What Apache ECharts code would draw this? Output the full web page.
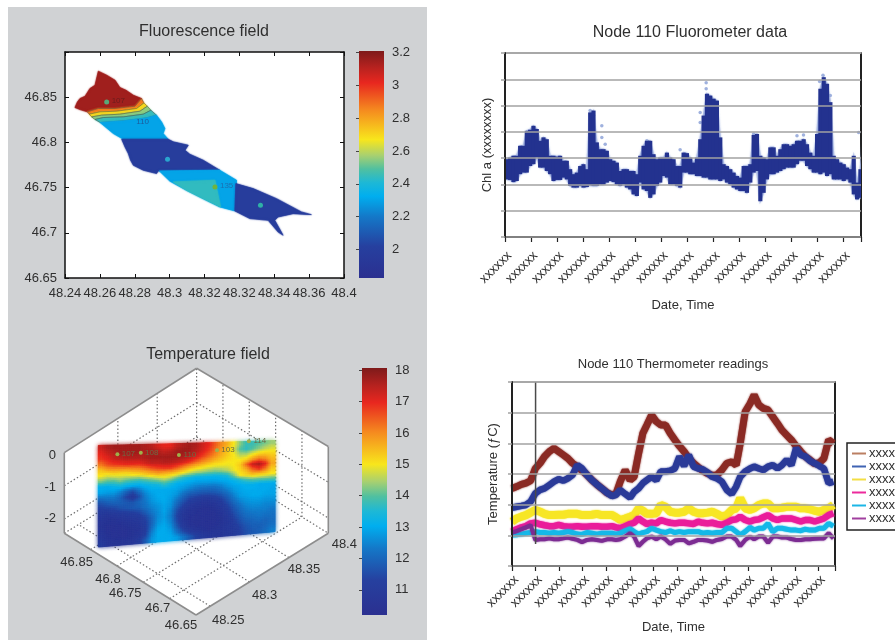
<!DOCTYPE html>
<html><head><meta charset="utf-8"><title>Lake sensor fields</title>
<style>html,body{margin:0;padding:0;background:#fff;overflow:hidden}#c{width:895px;height:640px}</style>
<script src="https://cdn.jsdelivr.net/npm/echarts@6/dist/echarts.min.js"></script>
</head><body><div id="c"></div><script>
// ---------- DATA ----------
const mapXLabels=['48.24','48.26','48.28','48.3','48.32','48.32','48.34','48.36','48.4'];
const mapYLabels=['46.65','46.7','46.75','46.8','46.85',''];
const fluorBarTicks=[2,2.2,2.4,2.6,2.8,3,3.2];
const tempBarTicks=[11,12,13,14,15,16,17,18];
// Fluorescence field: [value, outline as lon/lat pairs]
const regionRed=[3.15,[[48.2457,46.8386],[48.2471,46.8448],[48.2486,46.8485],[48.2515,46.8511],[48.2543,46.8596],[48.2572,46.8633],[48.2591,46.8788],[48.2639,46.8744],[48.2687,46.8688],[48.2715,46.8607],[48.2750,46.8577],[48.2792,46.8522],[48.2839,46.8485],[48.2830,46.8448],[48.2801,46.84],[48.2687,46.8375],[48.2591,46.8375],[48.2528,46.8338],[48.2486,46.8363]]];
const regionOrange=[2.88,[[48.2528,46.8338],[48.2591,46.8375],[48.2687,46.8375],[48.2801,46.84],[48.2839,46.8485],[48.2853,46.8437],[48.2811,46.8375],[48.2696,46.8345],[48.2601,46.8338],[48.2539,46.8312]]];
const regionYellow=[2.7,[[48.2539,46.8312],[48.2601,46.8338],[48.2696,46.8345],[48.2811,46.8375],[48.2853,46.8437],[48.2872,46.84],[48.2830,46.8345],[48.2715,46.8312],[48.2610,46.8301],[48.2553,46.8282]]];
const regionGreen=[2.55,[[48.2553,46.8282],[48.2610,46.8301],[48.2715,46.8312],[48.2830,46.8345],[48.2872,46.84],[48.2893,46.8356],[48.2849,46.8312],[48.2734,46.8282],[48.2620,46.8275],[48.2572,46.8253]]];
const regionTeal=[2.45,[[48.2572,46.8253],[48.2620,46.8275],[48.2734,46.8282],[48.2849,46.8312],[48.2893,46.8356],[48.2925,46.8301],[48.2868,46.8271],[48.2734,46.8238],[48.2601,46.822]]];
const regionBlueA=[2.3,[[48.2601,46.822],[48.2734,46.8238],[48.2868,46.8271],[48.2925,46.8301],[48.2954,46.8227],[48.2973,46.8153],[48.2963,46.8098],[48.2992,46.8035],[48.2734,46.8035],[48.2677,46.8098]]];
const regionNavyA=[1.98,[[48.2725,46.8035],[48.2992,46.8035],[48.3021,46.8006],[48.3107,46.7969],[48.3088,46.7913],[48.3116,46.7869],[48.3193,46.7803],[48.3288,46.7692],[48.2935,46.7684],[48.2925,46.7655],[48.2849,46.7692],[48.2792,46.7747],[48.2776,46.7803],[48.2763,46.7876],[48.2744,46.795]]];
const regionBlueB=[2.3,[[48.2941,46.7684],[48.3288,46.7692],[48.3384,46.7581],[48.3374,46.7242],[48.3288,46.7286],[48.3193,46.7378],[48.3097,46.7470],[48.3002,46.7570]]];
const regionTealB=[2.44,[[48.3021,46.7563],[48.3260,46.7581],[48.3292,46.7286],[48.3193,46.7378],[48.3097,46.7470]]];
const regionNavyB=[1.98,[[48.3380,46.7544],[48.3479,46.7489],[48.3613,46.7378],[48.3756,46.7231],[48.3813,46.7201],[48.3708,46.7212],[48.3622,46.7175],[48.3603,46.7138],[48.3651,46.6972],[48.3622,46.7009],[48.3565,46.7138],[48.3460,46.7157],[48.3374,46.7242]]];
const mapRegions=[regionRed,regionOrange,regionYellow,regionGreen,regionTeal,regionBlueA,regionNavyA,regionBlueB,regionTealB,regionNavyB];
const mapNodes=[[48.2639,46.8448],[48.2988,46.7814],[48.3260,46.7507],[48.3521,46.7304]];
const mapNodeLabels=['107','','135',''];
const mapIsoLabel=[[48.2845,46.8225,'110']];
// Temperature field: rows from the surface down, columns along the lake section
const sectionStart=[48.2605,46.878];
const sectionEnd=[48.374,46.7122];
const sectionBottom=[-3.04,-2.6];
const tempField=[
[17.3,17.6,17.7,17.7,17.7,17.7,17.7,17.6,17.5,17.2,17.0,17.0,17.4,17.6,17.7,17.6,17.3,17.0,16.5,16.0,15.6,15.0,14.3,13.8,13.8,14.0,14.2,14.4],
[17.0,17.3,17.5,17.7,17.7,17.7,17.7,17.6,17.7,17.6,17.4,17.5,17.7,17.8,17.7,17.5,17.2,16.8,16.3,15.8,15.4,14.8,14.0,13.7,14.0,14.3,14.6,14.8],
[16.8,17.0,17.3,17.4,17.5,17.5,17.5,17.6,17.7,17.7,17.7,17.7,17.7,17.6,17.5,17.2,16.8,16.4,16.0,15.6,15.3,15.0,14.5,14.5,14.9,15.2,15.3,15.2],
[16.2,16.6,16.8,16.9,17.0,17.0,17.0,17.2,17.4,17.4,17.5,17.5,17.4,17.2,16.9,16.5,16.1,15.8,15.5,15.3,15.1,15.0,15.0,15.2,15.8,16.2,16.0,15.5],
[15.4,15.7,15.8,15.8,15.8,15.9,16.0,16.2,16.5,16.7,16.8,16.8,16.5,16.1,15.7,15.4,15.2,15.0,14.9,14.9,14.9,15.0,15.3,16.3,17.3,17.6,17.0,15.7],
[15.0,14.8,14.9,14.9,14.9,15.0,15.1,15.3,15.5,15.7,15.6,15.5,15.3,15.0,14.7,14.5,14.4,14.3,14.2,14.3,14.5,14.9,15.2,15.6,16.4,16.8,16.2,15.3],
[14.2,14.0,14.0,14.2,14.0,13.9,13.8,14.0,14.2,14.4,14.6,14.4,14.0,13.6,13.4,13.2,13.2,13.2,13.2,13.3,13.5,14.2,15.0,15.2,15.4,15.3,15.2,15.0],
[13.1,13.1,13.2,13.3,13.1,13.0,13.0,13.2,13.3,13.4,13.7,13.4,13.1,13.0,12.9,12.8,12.8,12.8,12.8,12.9,13.0,13.2,13.5,13.8,14.0,14.0,14.0,14.0],
[12.9,12.8,12.8,12.5,12.0,11.6,12.2,12.7,13.0,13.0,13.0,13.0,12.9,12.7,12.5,12.3,12.2,12.2,12.2,12.4,12.7,12.9,13.0,13.1,13.1,13.0,13.0,13.0],
[12.2,12.3,12.3,12.0,11.4,10.9,11.6,12.4,12.8,13.0,13.0,12.9,12.7,12.2,11.9,11.8,11.7,11.7,11.8,12.0,12.3,12.7,12.9,13.0,13.0,13.0,13.0,12.9],
[11.6,11.8,11.9,11.9,11.8,11.7,12.0,12.3,12.7,12.9,13.0,12.8,12.3,11.8,11.4,11.2,11.1,11.1,11.2,11.5,11.9,12.4,12.8,12.9,13.0,13.0,12.9,12.9],
[11.2,11.3,11.4,11.6,11.7,11.8,11.9,12.2,12.5,12.7,12.9,12.7,12.0,11.4,11.0,10.8,10.7,10.7,10.8,11.1,11.6,12.1,12.5,12.7,12.8,12.8,12.7,12.7],
[10.9,10.8,10.9,11.0,11.1,11.2,11.4,11.8,12.3,12.6,12.9,12.5,11.6,11.0,10.7,10.6,10.5,10.5,10.6,10.9,11.3,11.8,12.2,12.5,12.6,12.6,12.5,12.5],
[10.7,10.6,10.6,10.7,10.8,10.9,11.0,11.4,12.0,12.6,12.8,12.4,11.4,10.8,10.6,10.5,10.5,10.5,10.5,10.7,11.1,11.6,12.0,12.3,12.4,12.4,12.4,12.3],
[10.6,10.5,10.5,10.5,10.6,10.7,10.8,11.2,12.0,12.7,12.9,12.5,11.5,10.8,10.5,10.5,10.5,10.5,10.5,10.6,10.9,11.4,11.8,12.1,12.2,12.3,12.2,12.2],
[10.7,10.5,10.5,10.5,10.5,10.6,10.7,11.1,12.2,12.9,13.0,12.7,11.8,11.0,10.6,10.5,10.5,10.5,10.5,10.6,10.8,11.2,11.6,11.9,12.0,12.1,12.0,12.1],
[10.8,10.6,10.5,10.5,10.5,10.6,10.8,11.3,12.5,13.0,13.0,12.9,12.2,11.5,11.0,10.7,10.6,10.5,10.6,10.7,10.9,11.1,11.4,11.7,11.9,11.9,12.0,12.2],
[11.0,10.7,10.6,10.6,10.7,10.8,11.1,11.8,12.7,13.0,13.0,13.0,12.8,12.3,11.8,11.3,11.0,10.8,10.7,10.7,10.8,11.0,11.3,11.6,11.8,11.9,12.1,12.4]];
const sectionNodes=[[48.274,46.862,-0.31],[48.291,46.843,-0.34],[48.318,46.811,-0.5],[48.345,46.779,-0.46],[48.368,46.753,-0.3]];
const sectionNodeLabels=['107','108','110','103','114'];
const latTicks3D=[46.85,46.8,46.75,46.7,46.65];
const lonTicks3D=[48.25,48.3,48.35,48.4];
const depthTicks3D=[0,-1,-2];
// Fluorometer: upper and lower edge of the dense band, one pair per sampled time step
const fluoroHigh=[2.96,3.02,3.09,3.09,3.47,3.47,4.04,4.08,4.23,4.11,3.66,3.79,3.72,3.09,3.09,3.06,3.09,2.90,2.90,2.58,2.39,2.45,2.70,2.77,2.58,4.74,4.81,3.60,3.34,3.34,3.28,2.96,2.90,2.83,2.51,2.58,2.58,2.51,2.51,2.39,3.09,3.47,3.66,3.66,3.15,2.96,3.02,3.02,3.21,3.02,2.96,2.70,2.70,3.21,3.19,3.02,2.83,3.02,3.72,4.62,5.45,5.38,5.26,5.19,3.79,2.77,2.70,2.58,2.45,2.32,2.26,2.70,2.70,2.77,3.88,3.92,3.09,3.02,2.96,3.41,3.41,3.09,3.34,3.53,3.53,3.47,3.53,3.66,3.66,3.72,3.53,3.21,3.09,3.92,5.64,6.08,5.83,5.13,3.09,2.96,2.83,2.77,2.64,2.58,3.09,2.07,2.58,3.85];
const fluoroLow=[2.19,2.17,2.09,2.13,2.39,2.45,2.45,2.70,2.77,3.02,2.64,2.64,2.51,2.39,2.13,2.17,2.17,2.26,2.19,1.94,1.88,1.88,1.94,1.88,1.90,1.97,1.94,1.94,2.0,2.0,2.07,2.13,2.09,2.0,1.94,2.0,1.88,1.81,1.62,1.56,2.07,1.81,1.75,1.49,1.62,1.94,2.07,2.32,2.26,2.0,2.0,1.94,1.88,2.45,2.45,2.39,2.39,2.32,2.32,2.26,2.26,2.19,2.19,2.19,2.13,2.19,2.07,2.0,1.88,1.81,1.75,1.75,1.68,2.07,2.45,2.51,1.36,1.68,2.19,2.39,2.39,2.45,2.51,2.58,2.64,2.64,2.64,2.77,2.90,2.90,2.70,2.58,2.45,2.45,2.39,2.45,2.32,2.39,2.19,2.19,2.19,2.13,2.19,2.07,1.62,1.43,1.49,2.07];
const fluoroSpikes=[[3.27,4.81],[3.4,4.62],[3.72,4.23],[3.72,3.79],[3.59,3.34],[3.85,3.53],[3.81,3.21],[7.73,5.87],[7.73,5.64],[7.5,4.74],[7.5,4.36],[12.22,6.15],[12.09,5.92],[12.5,5.38],[5.45,3.66],[11.22,3.85],[11.47,3.88],[6.73,3.32],[9.55,3.92],[13.59,3.98]];
const dateLabels=['xxxxxx','xxxxxx','xxxxxx','xxxxxx','xxxxxx','xxxxxx','xxxxxx','xxxxxx','xxxxxx','xxxxxx','xxxxxx','xxxxxx','xxxxxx','xxxxxx'];
// Thermometers
const thermoTime=[0,.2,.4,.59,.79,.99,1.19,1.38,1.58,1.78,1.98,2.18,2.37,2.57,2.77,2.97,3.18,3.39,3.6,3.81,4.03,4.24,4.41,4.59,4.8,5.01,5.18,5.37,5.55,5.72,5.92,6.12,6.31,6.51,6.71,6.91,7.1,7.3,7.5,7.7,7.9,8.09,8.29,8.49,8.69,8.9,9.11,9.32,9.51,9.68,9.89,10.1,10.27,10.47,10.66,10.86,11.06,11.26,11.45,11.65,11.85,12.05,12.25,12.44,12.64,12.84,13.04,13.23,13.43,13.63];
const thermoBrown=[2.53,2.59,2.66,2.70,2.78,3.18,3.35,3.57,3.73,3.84,3.73,3.62,3.51,3.35,3.24,3.11,2.97,2.80,2.66,2.53,2.39,2.32,2.35,2.75,3.13,2.80,2.91,3.67,4.33,4.60,4.92,4.71,4.60,4.60,4.33,4.11,3.91,3.73,3.51,3.35,3.22,3.11,3.02,2.95,2.97,3.13,3.35,3.40,3.29,4.00,5.03,5.30,5.58,5.25,5.14,5.09,4.87,4.65,4.43,4.27,4.11,3.91,3.73,3.57,3.46,3.33,3.37,3.51,4.11,4.00];
const thermoBlue=[1.90,1.93,1.96,1.99,2.10,2.37,2.48,2.53,2.64,2.75,2.83,2.78,2.86,2.97,3.29,3.18,2.97,2.80,2.66,2.53,2.39,2.28,2.32,2.48,2.35,2.23,2.42,2.53,2.70,2.80,2.91,2.80,3.08,3.08,3.11,3.18,3.57,3.26,3.62,3.24,3.18,3.15,3.05,2.91,2.86,2.75,2.48,2.35,2.59,2.91,3.08,3.18,3.24,3.18,3.13,3.24,3.29,3.18,3.29,3.46,3.29,3.84,3.62,3.57,3.43,3.35,3.26,3.18,2.70,2.75];
const thermoYellow=[1.45,1.55,1.61,1.66,1.74,1.83,1.77,1.70,1.66,1.66,1.67,1.67,1.70,1.70,1.70,1.66,1.66,1.67,1.70,1.66,1.66,1.66,1.59,1.50,1.55,1.61,1.66,1.88,1.80,1.70,1.70,1.72,1.99,1.93,1.77,1.74,1.74,1.77,1.88,1.77,1.72,1.72,1.74,1.77,1.70,1.61,1.66,1.83,1.88,2.21,1.88,1.83,1.88,1.99,2.04,2.04,1.88,1.88,1.90,1.93,1.93,1.93,1.88,1.88,1.85,1.80,1.77,1.83,1.88,1.99];
const thermoMagenta=[1.12,1.20,1.26,1.30,1.39,1.41,1.36,1.33,1.30,1.30,1.34,1.30,1.28,1.28,1.30,1.28,1.28,1.30,1.30,1.28,1.28,1.30,1.26,1.23,1.30,1.37,1.41,1.55,1.45,1.37,1.41,1.39,1.50,1.45,1.41,1.39,1.41,1.41,1.39,1.37,1.45,1.41,1.39,1.41,1.37,1.34,1.41,1.50,1.52,1.61,1.50,1.45,1.50,1.52,1.59,1.66,1.55,1.50,1.55,1.55,1.55,1.50,1.45,1.50,1.50,1.45,1.50,1.55,1.66,1.72];
const thermoCyan=[1.01,1.02,1.04,1.07,1.09,1.12,1.09,1.09,1.07,1.09,1.07,1.09,1.12,1.09,1.04,1.03,1.09,1.07,1.04,1.07,1.07,1.07,1.04,1.07,1.15,1.21,1.12,1.04,1.09,1.12,1.23,1.17,1.12,1.09,1.15,1.09,1.12,1.09,1.12,1.12,1.12,1.07,1.09,1.07,1.09,1.09,1.23,1.23,1.12,1.01,1.12,1.26,1.17,1.23,1.23,1.39,1.12,1.23,1.23,1.20,1.17,1.17,1.15,1.20,1.17,1.17,1.23,1.23,1.39,1.30];
const thermoPurple=[1.09,1.14,1.20,1.26,1.33,.85,.87,.87,.90,.87,.87,.90,.93,.89,.85,.78,.85,.87,.85,.82,.87,.87,.85,.87,.96,1.07,.96,.65,.79,.90,.96,.87,.96,.87,.72,.83,.85,.85,.74,.79,.85,.85,.83,.79,.85,.88,.96,.96,.85,.65,.85,.96,.87,.96,.96,.76,.96,.96,.93,.93,.88,.85,.85,.87,.87,.89,.90,.90,1.07,.90];
const thermoSeriesNames=['sensor 1','sensor 2','sensor 3','sensor 4','sensor 5','sensor 6'];
const thermoSeriesData=[thermoBrown,thermoBlue,thermoYellow,thermoMagenta,thermoCyan,thermoPurple];

// ---------- STYLE / LAYOUT ----------
const FONT='"Liberation Sans", Arial, sans-serif', INK='#2f2f2f';
const thermoColors=['#8a2a24','#2a3a98','#f7e625','#ea1c9a','#14b8e8','#7c2c92'];
const thermoWidths=[7,6.5,8,6.5,5,4];
const legendColors=['#bb7f62','#3f63b3','#f3de45','#ec2a9c','#1cb6e6','#a13f9f'];
const rampStops=[[0,'#2b3090'],[.14,'#26409f'],[.27,'#1478c8'],[.36,'#00aeef'],[.42,'#1db8d6'],[.48,'#50c0a0'],[.54,'#a8d070'],[.61,'#f8e61c'],[.74,'#f58a1f'],[.86,'#e8271f'],[.93,'#b5221f'],[1,'#7e1a1a']];
function ramp(t){t=Math.max(0,Math.min(1,t));
  for(let i=1;i<rampStops.length;i++){ if(t<=rampStops[i][0]){const a=rampStops[i-1],b=rampStops[i];
    return echarts.color.lerp((t-a[0])/(b[0]-a[0]),[a[1],b[1]]);}} return rampStops[rampStops.length-1][1];}
const fluorRange=[1.825,3.21], tempRange=[10.2,18.07];
const box={lon:[48.232,48.4],lat:[46.65,46.9],floor:-2.43,ox:196,oy:615,lonV:[132.3,-81.7],latV:[-131.7,-81.7],dz:33.2,dzLon:2.5,dzBack:-1.4};
function project(lon,lat,d){const a=(lon-box.lon[0])/(box.lon[1]-box.lon[0]),b=(lat-box.lat[0])/(box.lat[1]-box.lat[0]);
  const dz=box.dz+box.dzLon*a+box.dzBack*a*b;
  return [box.ox+a*box.lonV[0]+b*box.latV[0],box.oy+a*box.lonV[1]+b*box.latV[1]-(d-box.floor)*dz];}
const latLabelOffset=[[-14,13],[-9,13],[-18,11],[-12,10],[-15,10]];
const lonLabelOffset=[[18,14],[15,13],[15,12],[16,11]];
const depthLabelOffset=[[-12,3],[-14,2],[-14,-1]];
function frameAxis(o){const base={type:'value',axisTick:{show:false},axisLabel:{show:false},splitLine:{show:false}};
  const r=Object.assign(base,o);r.axisLine=Object.assign({show:true,onZero:false,lineStyle:{color:'#111',width:1.5}},o.axisLine||{});return r;}
function blank(o){return Object.assign({type:'value',show:false,min:0,max:1},o);}

const grids=[
 {left:8,top:7,width:419,height:633,show:true,backgroundColor:'#d0d2d4',borderWidth:0},  //0 panel + 3D space
 {left:65,top:52,width:279,height:226,show:true,backgroundColor:'#fff',borderWidth:0},   //1 map
 {left:359,top:51,width:25,height:227},                                                  //2 bar
 {left:362,top:368,width:25,height:247},                                                 //3 bar
 {left:505,top:53,width:356,height:184},                                                 //4 fluoro
 {left:512,top:382,width:323,height:184}                                                 //5 thermo
];
const tsLabel=(m)=>({show:true,rotate:45,verticalAlign:'top',fontFamily:FONT,fontSize:13,color:INK,margin:m,interval:0,formatter:(v,i)=>dateLabels[i]||''});
const tsName={nameLocation:'middle',nameTextStyle:{fontFamily:FONT,fontSize:13,color:INK}};
const darkLine={show:true,onZero:false,lineStyle:{color:'#222',width:2}};
const greyLine={show:true,onZero:false,lineStyle:{color:'#a8a8a8',width:1.5}};
const xAxes=[
 blank({gridIndex:0,min:8,max:427}),
 frameAxis({gridIndex:1,min:48.24,max:48.4,interval:.02,position:'bottom',axisTick:{show:true,inside:true,length:4,lineStyle:{color:'#111'}},
   axisLabel:{show:true,fontFamily:FONT,fontSize:13,color:INK,margin:9,hideOverlap:false,showMinLabel:true,showMaxLabel:true,formatter:(v,i)=>mapXLabels[i]}}),
 frameAxis({gridIndex:1,min:48.24,max:48.4,interval:.02,position:'top',axisTick:{show:true,inside:true,length:4,lineStyle:{color:'#111'}}}),
 blank({gridIndex:2}),blank({gridIndex:3}),
 frameAxis(Object.assign({gridIndex:4,min:0,max:13.68,interval:1,position:'bottom',axisLine:darkLine,
   axisTick:{show:true,length:5,lineStyle:{color:'#222',width:1.2}},axisLabel:tsLabel(12),name:'Date, Time',nameGap:62},tsName)),
 frameAxis({gridIndex:4,min:0,max:13.68,position:'top',axisLine:greyLine}),
 frameAxis(Object.assign({gridIndex:5,min:0,max:13.7,interval:1,position:'bottom',axisLine:darkLine,
   axisTick:{show:true,length:5,lineStyle:{color:'#222',width:1.2}},axisLabel:tsLabel(7),name:'Date, Time',nameGap:55},tsName)),
 frameAxis({gridIndex:5,min:0,max:13.7,position:'top',axisLine:greyLine})
];
function barAxis(g,r,ticks){return [
 {type:'value',gridIndex:g,position:'right',min:r[0],max:r[1],axisLine:{show:false},splitLine:{show:false},
  axisTick:{show:true,inside:true,length:3,lineStyle:{color:'#444'},customValues:ticks},
  axisLabel:{show:true,fontFamily:FONT,fontSize:13,color:INK,margin:8,customValues:ticks}},
];}
const tsGrid={show:true,lineStyle:{color:'#a2a2a2',width:1.5}};
const tsTick={show:true,length:4,lineStyle:{color:'#a2a2a2',width:1.5}};
const yAxes=[
 blank({gridIndex:0,min:7,max:640,inverse:true}),
 frameAxis({gridIndex:1,min:46.65,max:46.9,interval:.05,position:'left',axisTick:{show:true,inside:true,length:4,lineStyle:{color:'#111'}},
   axisLabel:{show:true,fontFamily:FONT,fontSize:13,color:INK,margin:8,formatter:(v,i)=>mapYLabels[i]}}),
 frameAxis({gridIndex:1,min:46.65,max:46.9,interval:.05,position:'right',axisTick:{show:true,inside:true,length:4,lineStyle:{color:'#111'}}}),
 ...barAxis(2,fluorRange,fluorBarTicks),...barAxis(3,tempRange,tempBarTicks),
 frameAxis(Object.assign({gridIndex:4,min:0,max:7,interval:1,position:'left',z:5,axisLine:darkLine,axisTick:tsTick,splitLine:tsGrid,name:'Chl a (xxxxxxxx)',nameGap:11},tsName)),
 frameAxis({gridIndex:4,min:0,max:7,position:'right',axisLine:darkLine}),
 frameAxis(Object.assign({gridIndex:5,min:0,max:6,interval:1,position:'left',z:5,axisLine:darkLine,axisTick:tsTick,splitLine:tsGrid,name:'Temperature (ƒC)',nameGap:12},tsName)),
 frameAxis({gridIndex:5,min:0,max:6,position:'right',axisLine:darkLine})
];
const X={pan:0,map:1,barA:3,barB:4,fl:5,th:7}, Y={pan:0,map:1,barA:3,barB:4,fl:5,th:7};

// ---------- 3D helper geometry from the axis ticks ----------
const L=box.lon,A=box.lat,F=box.floor;
const solidEdges=[
 [[L[0],A[1],0],[L[1],A[1],0]],[[L[1],A[1],0],[L[1],A[0],0]],
 [[L[1],A[0],0],[L[1],A[0],F]],[[L[1],A[0],F],[L[0],A[0],F]],[[L[0],A[0],F],[L[0],A[1],F]],[[L[0],A[1],F],[L[0],A[1],0]]];
const dotted=[];
[-1,-2].forEach(d=>{dotted.push([[L[0],A[1],d],[L[1],A[1],d]],[[L[1],A[1],d],[L[1],A[0],d]]);});
[48.3,48.35,48.4].forEach(l=>dotted.push([[l,A[1],F],[l,A[1],0]]));
[46.85,46.8,46.75,46.7].forEach(a=>dotted.push([[L[1],a,F],[L[1],a,0]]));
lonTicks3D.slice(0,3).forEach(l=>dotted.push([[l,A[0],F],[l,A[1],F]]));
latTicks3D.slice(0,4).forEach(a=>dotted.push([[L[0],a,F],[L[1],a,F]]));
dotted.push([[L[1],A[1],F],[L[1],A[0],F]],[[L[0],A[1],F],[L[1],A[1],F]]);
const hexagon=[[L[0],A[1],0],[L[1],A[1],0],[L[1],A[0],0],[L[1],A[0],F],[L[0],A[0],F],[L[0],A[1],F]];
const pt=(api,p)=>{const s=project(p[0],p[1],p[2]);return api.coord(s);};
function idx(n){const a=[];for(let i=0;i<n;i++)a.push([i]);return a;}
const panel3D={xAxisIndex:X.pan,yAxisIndex:Y.pan,type:'custom',silent:true,tooltip:{show:false}};

function sectionPoint(col,row){const nc=tempField[0].length,nr=tempField.length,s=col/nc;
  const bottom=sectionBottom[0]+(sectionBottom[1]-sectionBottom[0])*s;
  return [sectionStart[0]+(sectionEnd[0]-sectionStart[0])*s,sectionStart[1]+(sectionEnd[1]-sectionStart[1])*s,bottom*row/nr];}
const cells=[];tempField.forEach((r,i)=>r.forEach((v,j)=>cells.push([j,i,v])));
// colour shading between the read cells (drawing only, the cell values stay as read)
const SHADE=3;
function shadeAt(c,r){const nc=tempField[0].length,nr=tempField.length;
  const x=Math.max(0,Math.min(nc-1,c-.5)),y=Math.max(0,Math.min(nr-1,r-.5));
  const i=Math.min(nr-2,Math.floor(y)),j=Math.min(nc-2,Math.floor(x)),u=x-j,v=y-i;
  const f=tempField;return f[i][j]*(1-u)*(1-v)+f[i][j+1]*u*(1-v)+f[i+1][j]*(1-u)*v+f[i+1][j+1]*u*v;}
const shadeCells=[];cells.forEach(c=>{for(let a=0;a<SHADE;a++)for(let b=0;b<SHADE;b++)shadeCells.push([c[0]+a/SHADE,c[1]+b/SHADE]);});

function textSeries(items,z){return Object.assign({},panel3D,{z:z,data:idx(items.length),renderItem:(p,api)=>{const it=items[p.dataIndex];
  const c=pt(api,it.at);return {type:'text',style:{x:c[0]+it.off[0],y:c[1]+it.off[1],text:it.text,fill:it.fill||INK,font:(it.size||13)+'px '+FONT,align:it.align||'center',verticalAlign:'middle'}};}});}
const labels3D=[
 ...latTicks3D.map((a,i)=>({at:[L[0],a,F],text:String(a),off:latLabelOffset[i]})),
 ...lonTicks3D.map((l,i)=>({at:[l,A[0],F],text:String(l),off:lonLabelOffset[i]})),
 ...depthTicks3D.map((d,i)=>({at:[L[0],A[1],d],text:String(d),off:depthLabelOffset[i]}))
];
const nodeText3D=sectionNodes.map((n,i)=>({at:n,text:sectionNodeLabels[i],off:[11,0],size:8,fill:'#6b6a45'}));
const flStep=10/78;

const series=[
 // 3D panel
 Object.assign({},panel3D,{z:1,data:[[0]],renderItem:(p,api)=>({type:'polygon',shape:{points:hexagon.map(h=>pt(api,h))},style:{fill:'#fff'}})}),
 Object.assign({},panel3D,{z:2,data:idx(dotted.length),renderItem:(p,api)=>{const s=dotted[p.dataIndex],a=pt(api,s[0]),b=pt(api,s[1]);
   return {type:'line',shape:{x1:a[0],y1:a[1],x2:b[0],y2:b[1]},style:{stroke:'#6e6e6e',lineWidth:1.2,lineDash:[1.5,2.2]}};}}),
 Object.assign({},panel3D,{z:3,data:idx(cells.length),renderItem:(p,api)=>{const c=cells[p.dataIndex];
   const f=ramp((c[2]-tempRange[0])/(tempRange[1]-tempRange[0]));
   const q=[[c[0],c[1]],[c[0]+1,c[1]],[c[0]+1,c[1]+1],[c[0],c[1]+1]].map(o=>pt(api,sectionPoint(o[0],o[1])));
   return {type:'polygon',shape:{points:q},style:{fill:f,stroke:f,lineWidth:.6,shadowBlur:4,shadowColor:f}};}}),
 Object.assign({},panel3D,{z:3,data:idx(shadeCells.length),renderItem:(p,api)=>{const c=shadeCells[p.dataIndex],w=1/SHADE;
   const f=ramp((shadeAt(c[0]+w/2,c[1]+w/2)-tempRange[0])/(tempRange[1]-tempRange[0]));
   const q=[[c[0],c[1]],[c[0]+w,c[1]],[c[0]+w,c[1]+w],[c[0],c[1]+w]].map(o=>pt(api,sectionPoint(o[0],o[1])));
   return {type:'polygon',shape:{points:q},style:{fill:f,stroke:f,lineWidth:.5}};}}),
 Object.assign({},panel3D,{z:4,data:idx(solidEdges.length),renderItem:(p,api)=>{const s=solidEdges[p.dataIndex],a=pt(api,s[0]),b=pt(api,s[1]);
   return {type:'line',shape:{x1:a[0],y1:a[1],x2:b[0],y2:b[1]},style:{stroke:'#8d8d8d',lineWidth:1.6}};}}),
 Object.assign({},panel3D,{z:5,data:idx(sectionNodes.length),renderItem:(p,api)=>{const c=pt(api,sectionNodes[p.dataIndex]);
   return {type:'circle',shape:{cx:c[0],cy:c[1],r:2},style:{fill:'#9fb04a'}};}}),
 textSeries(nodeText3D,6),textSeries(labels3D,6),
 // Fluorescence map
 {type:'custom',xAxisIndex:X.map,yAxisIndex:Y.map,z:3,silent:true,data:idx(mapRegions.length),renderItem:(p,api)=>{const r=mapRegions[p.dataIndex];
   const f=ramp((r[0]-fluorRange[0])/(fluorRange[1]-fluorRange[0]));const band=p.dataIndex>=1&&p.dataIndex<=4;
   return {type:'polygon',shape:{points:r[1].map(c=>api.coord(c))},style:{fill:f,stroke:band?'#4a4a3a':f,lineWidth:band?.5:.6,shadowBlur:1.5,shadowColor:f}};}},
 {type:'custom',xAxisIndex:X.map,yAxisIndex:Y.map,z:4,silent:true,data:idx(mapNodes.length),renderItem:(p,api)=>{const c=api.coord(mapNodes[p.dataIndex]);
   return {type:'group',children:[{type:'circle',shape:{cx:c[0],cy:c[1],r:2.5},style:{fill:['#58a878','#2aa5cf','#6fb33f','#2fb0a6'][p.dataIndex]}},
     {type:'text',style:{x:c[0]+5,y:c[1]-1,text:mapNodeLabels[p.dataIndex],fill:p.dataIndex?'#1d6fb0':'#6a1c1c',font:'8px '+FONT,verticalAlign:'middle'}}]};}},
 {type:'custom',xAxisIndex:X.map,yAxisIndex:Y.map,z:4,silent:true,data:idx(mapIsoLabel.length),renderItem:(p,api)=>{const m=mapIsoLabel[p.dataIndex],c=api.coord([m[0],m[1]]);
   return {type:'text',style:{x:c[0],y:c[1],text:m[2],fill:'#1d5c9c',font:'8px '+FONT,align:'center',verticalAlign:'middle'}};}},
 // Colour bars
 ...[[X.barA,Y.barA,fluorRange],[X.barB,Y.barB,tempRange]].map(b=>({type:'custom',xAxisIndex:b[0],yAxisIndex:b[1],silent:true,data:[[0]],
   renderItem:(p,api)=>{const a=api.coord([0,b[2][1]]),c=api.coord([1,b[2][0]]);
   return {type:'rect',shape:{x:a[0],y:a[1],width:c[0]-a[0],height:c[1]-a[1]},style:{fill:new echarts.graphic.LinearGradient(0,1,0,0,rampStops.map(s=>({offset:s[0],color:s[1]})))}};}})),
 // Fluorometer: soft halo band, then the dense readings per time step
 {type:'custom',xAxisIndex:X.fl,yAxisIndex:Y.fl,z:1,silent:true,clip:true,data:[[0]],renderItem:(p,api)=>{const pts=[];
   fluoroHigh.forEach((v,i)=>pts.push(api.coord([(i+.5)*flStep,v])));
   for(let i=fluoroLow.length-1;i>=0;i--)pts.push(api.coord([(i+.5)*flStep,fluoroLow[i]]));
   return {type:'polygon',shape:{points:pts},style:{fill:'#5f74bd',stroke:'#9fb0e0',lineWidth:1.5,opacity:.7,shadowBlur:2,shadowColor:'#a8b8e4'}};}},
 {type:'custom',xAxisIndex:X.fl,yAxisIndex:Y.fl,z:2,silent:true,clip:true,data:idx(fluoroHigh.length),renderItem:(p,api)=>{const i=p.dataIndex,
     a=api.coord([i*flStep,fluoroHigh[i]]),b=api.coord([(i+1)*flStep,fluoroLow[i]]);
   return {type:'rect',shape:{x:a[0]-.3,y:a[1],width:b[0]-a[0]+.8,height:b[1]-a[1]},style:{fill:'#23328f'}};}},
 {type:'scatter',xAxisIndex:X.fl,yAxisIndex:Y.fl,z:1,silent:true,symbolSize:3.5,itemStyle:{color:'#8ea3d8',opacity:.85},data:fluoroSpikes},
 // Thermometers
 ...thermoSeriesData.map((d,i)=>({type:'line',name:thermoSeriesNames[i],xAxisIndex:X.th,yAxisIndex:Y.th,z:2,silent:true,showSymbol:false,symbol:'none',
   data:d.map((v,k)=>[thermoTime[k],v]),lineStyle:{color:thermoColors[i],width:thermoWidths[i],shadowBlur:2,shadowColor:thermoColors[i]},itemStyle:{color:thermoColors[i]}})),
 {type:'line',xAxisIndex:X.th,yAxisIndex:Y.th,z:3,silent:true,symbol:'none',data:[[1,6],[1,.72]],lineStyle:{color:'#4a4a4a',width:1.5}}
];
const titleStyle=(s)=>({fontFamily:FONT,fontSize:s,fontWeight:'normal',color:INK});
const titles=[
 {text:'Fluorescence field',left:204,top:24,textAlign:'center',textStyle:titleStyle(16),padding:0},
 {text:'Temperature field',left:208,top:347,textAlign:'center',textStyle:titleStyle(16),padding:0},
 {text:'Node 110 Fluorometer data',left:690,top:25,textAlign:'center',textStyle:titleStyle(16),padding:0},
 {text:'Node 110 Thermometer readings',left:673,top:358,textAlign:'center',textStyle:titleStyle(13),padding:0}
];
const chart=echarts.init(document.getElementById('c'),null,{renderer:'canvas'});
chart.setOption({animation:false,backgroundColor:'#fff',title:titles,grid:grids,xAxis:xAxes,yAxis:yAxes,series,
 legend:{orient:'vertical',left:847,top:443,icon:'rect',itemWidth:14,itemHeight:2,itemGap:0,padding:[4,40,5,5],borderColor:'#222',borderWidth:1.5,backgroundColor:'#fff',
  selectedMode:false,textStyle:{fontFamily:FONT,fontSize:13,color:INK,lineHeight:13,padding:[0,0,0,-2]},formatter:()=>'xxxxxx',
  data:thermoSeriesNames.map((n,i)=>({name:n,itemStyle:{color:legendColors[i]},lineStyle:{color:legendColors[i]}}))}});
</script></body></html>
